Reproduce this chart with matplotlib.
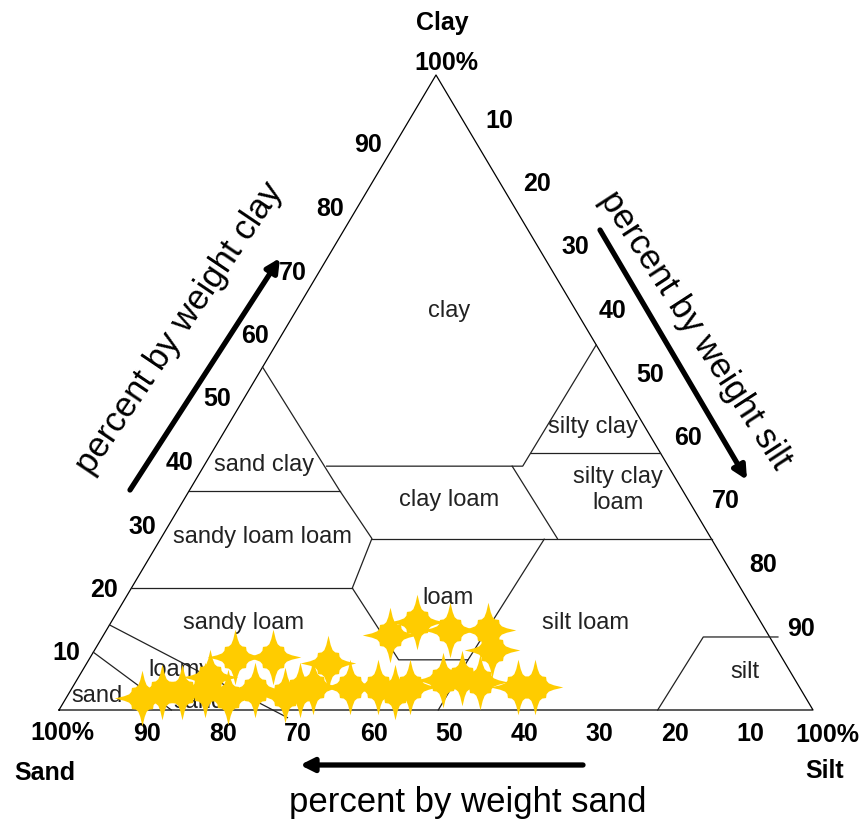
import numpy as np
import matplotlib.pyplot as plt
from matplotlib.path import Path

plt.rcParams["font.family"] = ["Liberation Sans", "DejaVu Sans"]

# --- DATA ---
# tick values along each side of the triangle (percent)
CLAY_TICKS = [10, 20, 30, 40, 50, 60, 70, 80, 90]   # left side
SILT_TICKS = [10, 20, 30, 40, 50, 60, 70, 80, 90]   # right side
SAND_TICKS = [90, 80, 70, 60, 50, 40, 30, 20, 10]   # bottom

# texture class boundaries, polylines of (sand %, clay %); silt = rest
OUTLINE = [(100, 0), (0, 0), (0, 100), (100, 0)]
BOUNDARIES = [
    [(46, 54), (45.5, 34.5), (45, 27), (51.5, 19.2), (51, 7.9), (41.8, 7.9),
     (22.2, 26.9)],                                   # loam / sandy clay side
    [(41.8, 7.9), (49.7, 0)],                         # below loam
    [(45, 26.9), (0, 26.9)],                          # clay 27 line
    [(45.3, 38.4), (19.3, 38.4), (0, 57.5)],          # clay / clay loam, silty clay
    [(17.2, 40.5), (0, 40.5)],                        # silty clay bottom
    [(20.7, 38.4), (20.4, 27)],                       # clay loam / silty clay loam
    [(65.5, 34.5), (45.5, 34.5)],                     # sand clay bottom
    [(80.8, 19.2), (51.5, 19.2)],                     # sandy loam top
    [(86.6, 13.4), (70.3, -1.2)],                     # loamy sand / sandy loam
    [(90.9, 9.1), (85.1, 0)],                         # sand / loamy sand
    [(-1.1, 11.5), (8.8, 11.5), (20.6, 0)],           # silt
]

# soil samples
SAMPLE_SAND = [88.0, 84.9, 82.3, 79.1, 77.4, 76.6, 72.5, 72.4, 67.5, 68.8,
               66.5, 64.5, 60.6, 59.6, 55.9, 54.0, 51.6, 50.2, 45.6, 41.8,
               36.8, 37.9, 46.7, 44.0, 42.0, 37.3, 35.1]
SAMPLE_CLAY = [1.9, 2.8, 2.8, 3.1, 5.2, 2.0, 8.3, 3.1, 8.3, 2.4,
               3.1, 3.6, 7.4, 3.6, 3.6, 2.8, 3.6, 11.8, 13.9, 12.6,
               12.6, 9.4, 4.7, 5.0, 4.4, 3.6, 3.6]

CLASS_NAMES = ["clay", "silty clay", "sand clay", "clay loam", "silty clay\nloam",
               "sandy loam loam", "loam", "silt loam", "sandy loam", "loamy",
               "sand", "sand", "silt"]


def tern(sand, clay):
    sand = np.asarray(sand, dtype=float)
    clay = np.asarray(clay, dtype=float)
    silt = 100 - sand - clay
    return silt + clay / 2, clay


# --- FIGURE ---
W, H = 865, 821
fig = plt.figure(figsize=(W / 100, H / 100), dpi=100)
ax = fig.add_axes([0, 0, 1, 1])
# triangle corners in pixels: left 59, right 813, base 710, apex 75
sx = (813 - 59) / 100
sy = (710 - 75) / 100
ax.set_xlim(-59 / sx, (W - 59) / sx)
ax.set_ylim(-(H - 710) / sy, 710 / sy)
ax.axis("off")


def px_text(x, y, s, **kw):
    # pixel position measured from the top-left corner; drawn below the stars
    ax.text(x / W, 1 - y / H, s, transform=fig.transFigure, zorder=2, **kw)


# outline and class boundaries
x, y = tern(*zip(*OUTLINE))
ax.plot(x, y, color="black", lw=0.9)
for line in BOUNDARIES:
    x, y = tern(*zip(*line))
    ax.plot(x, y, color="#222222", lw=0.9)

# class names
label_pos = [(449, 311), (593, 427), (264, 465), (449, 500), (618, 490),
             (262, 537), (448, 598), (586, 623), (243, 623), (180, 670),
             (199, 702), (97, 696), (745, 672)]
for name, (lx, ly) in zip(CLASS_NAMES, label_pos):
    px_text(lx, ly, name, ha="center", va="center", fontsize=17,
            color="#222222", linespacing=1.2)

# tick labels
tk = dict(fontsize=18, fontweight="bold", ha="center", va="center",
          textcoords="offset pixels")
for v in CLAY_TICKS:
    ax.annotate(str(v), tern(100 - v, v), xytext=(-30, -7), **tk)
for v in SILT_TICKS:
    ax.annotate(str(v), tern(0, 100 - v), xytext=(26, 18), **tk)
for v in SAND_TICKS:
    ax.annotate(str(v), tern(v, 0), xytext=(13, -24), **tk)

corner = dict(fontsize=18, fontweight="bold", ha="center", va="center")
px_text(62, 733, "100%", **corner)
px_text(45, 773, "Sand", **corner)
px_text(827, 735, "100%", **corner)
px_text(825, 771, "Silt", **corner)
px_text(446, 63, "100%", **corner)
px_text(442, 23, "Clay", **corner)

# axis titles and arrows
px_text(180, 328, "percent by weight clay", fontsize=25, rotation=56,
        ha="center", va="center", rotation_mode="anchor")
px_text(695, 330, "percent by weight silt", fontsize=25, rotation=-57,
        ha="center", va="center", rotation_mode="anchor")
px_text(468, 812, "percent by weight sand", fontsize=25,
        ha="center", va="baseline")

arrow = dict(arrowstyle="-|>", lw=3.8, color="black", mutation_scale=20,
             shrinkA=0, shrinkB=0)
for tail, tip in [((130, 490), (280, 258)), ((600, 230), (747, 480)),
                  ((583, 765), (300, 765))]:
    ax.annotate("", xy=(tip[0], H - tip[1]), xytext=(tail[0], H - tail[1]),
                xycoords="figure pixels", textcoords="figure pixels",
                arrowprops=arrow)

# four-pointed sparkle marker with a fat core
quad = [(0, 1), (0.08, 0.66), (0.15, 0.48), (0.24, 0.4), (0.38, 0.38),
        (0.4, 0.24), (0.48, 0.15), (0.66, 0.08)]
verts = []
for k in range(4):
    for qx, qy in quad:
        for _ in range(k):
            qx, qy = qy, -qx
        verts.append((qx, qy))
verts.append(verts[0])
star = Path(verts, [Path.MOVETO] + [Path.LINETO] * (len(verts) - 2) + [Path.CLOSEPOLY])

x, y = tern(SAMPLE_SAND, SAMPLE_CLAY)
ax.scatter(x, y, marker=star, s=40 ** 2, color="#FFCC00", linewidths=0, zorder=5)

fig.savefig("out.png", dpi=100, facecolor="white")
